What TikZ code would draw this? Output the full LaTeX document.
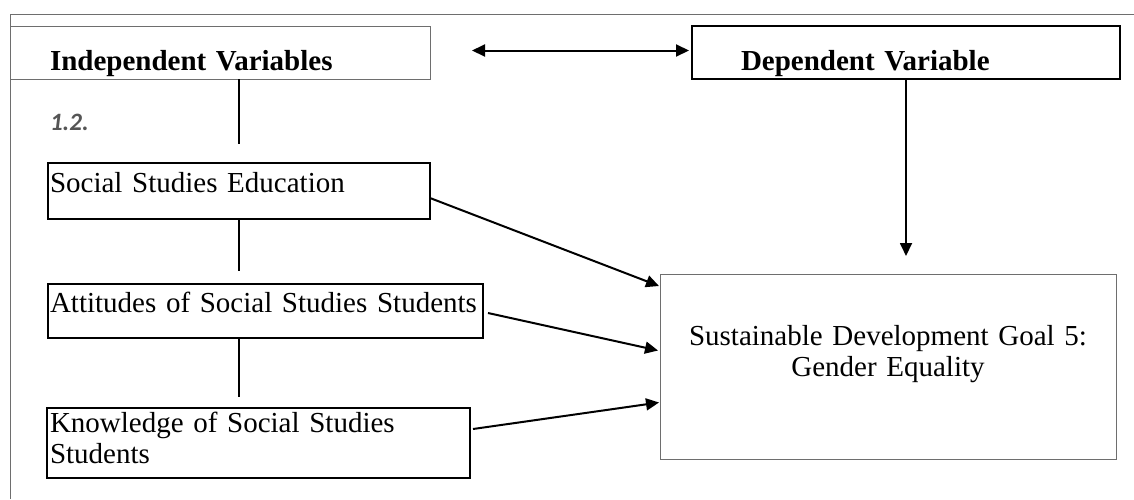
\documentclass[tikz,border=0pt]{standalone}
\usepackage{fontspec}
\setmainfont{Liberation Serif}
\newfontfamily\numfont{Carlito}
\usetikzlibrary{arrows.meta}
\definecolor{framegray}{RGB}{110,110,110}
\definecolor{numgray}{RGB}{85,85,85}
\begin{document}
\begin{tikzpicture}[x=1pt,y=-1pt, every node/.style={font=\fontsize{29}{31}\selectfont, inner sep=0pt, outer sep=0pt, align=left},
  thinbox/.style={draw=framegray, line width=0.9pt},
  thickbox/.style={draw=black, line width=1.8pt},
  tip/.style={-{Triangle[length=13pt,width=12pt]}}]
\useasboundingbox (0,0) rectangle (1134,499);
\draw[framegray, line width=0.9pt] (10,499) -- (10,14) -- (1134,14);

\node[thinbox, anchor=north west, inner xsep=40pt, text width=340pt, text height=44pt, text depth=9pt] (iv) at (10,26) {\textbf{Independent Variables}};
\node[thickbox, anchor=north west, inner xsep=49pt, text width=330pt, text height=44pt, text depth=9pt] (dv) at (692,26) {\textbf{Dependent Variable}};
\node[anchor=base west, text=numgray, font=\numfont\fontsize{25}{27}\selectfont\bfseries\itshape] (num) at (50,130) {1.2.};

\node[thickbox, anchor=north west, inner xsep=2pt, text width=378pt, text height=29pt, text depth=27pt] (sse) at (48,163) {Social Studies Education};
\node[thickbox, anchor=north west, inner xsep=2pt, text width=431pt, text height=28pt, text depth=26pt] (att) at (48,284) {Attitudes of Social Studies Students};
\node[thickbox, anchor=north west, inner xsep=3pt, text width=417pt, text height=24pt, text depth=46pt] (kno) at (47,408) {Knowledge of Social Studies\\Students};
\node[thinbox, anchor=north west, align=center, text width=456pt, text height=71pt, text depth=114pt] (sdg) at (660,274) {Sustainable Development Goal 5:\\Gender Equality};

\draw[line width=2pt, {Triangle[length=13pt,width=12pt]}-{Triangle[length=13pt,width=12pt]}] ([xshift=42pt,yshift=2pt]iv.east) -- ([xshift=-3pt,yshift=2pt]dv.west);
\draw[line width=1.4pt, shorten >=19pt] (iv.south -| sse.north) -- (sse.north);
\draw[line width=1.4pt, shorten >=13pt] (sse.south) -- (sse.south |- att.north);
\draw[line width=1.4pt, shorten >=11pt] (att.south -| sse.south) -- (kno.north -| sse.south);
\draw[line width=1.8pt, tip, shorten >=18pt] (dv.south) -- (dv.south |- sdg.north);
\draw[line width=2pt, tip] ([yshift=-7pt]sse.east) -- ([xshift=-1pt,yshift=-12pt]sdg.north west);
\draw[line width=2pt, tip] ([xshift=5pt,yshift=-2pt]att.east) -- ([xshift=-2pt,yshift=16pt]sdg.west);
\draw[line width=2pt, tip] ([xshift=3pt,yshift=14pt]kno.east) -- ([xshift=-1pt,yshift=-36pt]sdg.west);
\end{tikzpicture}
\end{document}
